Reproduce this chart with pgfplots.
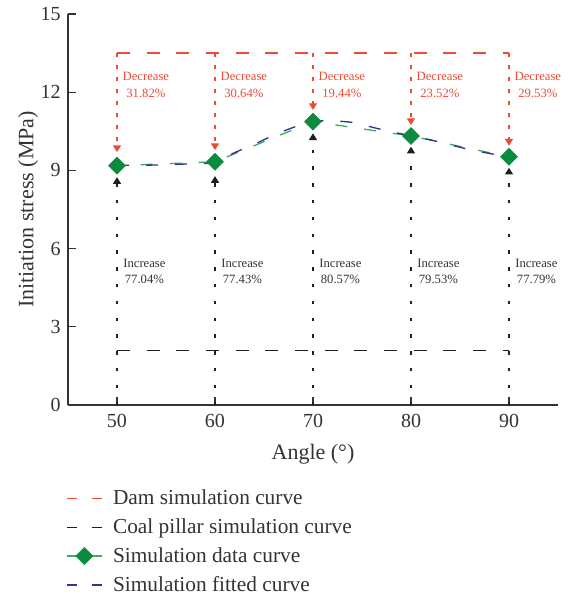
\documentclass[border=0pt]{standalone}
\usepackage{pgfplots}
\pgfplotsset{compat=1.18}
\usepackage{fontspec}
\setmainfont{Liberation Serif}
\usetikzlibrary{arrows.meta}
\definecolor{dred}{HTML}{EE4B36}
\definecolor{dblack}{HTML}{1E1E1E}
\definecolor{dgreen}{HTML}{0B8B3D}
\definecolor{dgreenl}{HTML}{3DAE5F}
\definecolor{dblue}{HTML}{3B2F8F}
\definecolor{axgray}{HTML}{333333}
\definecolor{txtgray}{HTML}{333333}
\begin{document}
\begin{tikzpicture}
\begin{axis}[
  width=367.5pt, height=293.25pt, scale only axis,
  xmin=45, xmax=95, ymin=0, ymax=15,
  axis x line*=bottom, axis y line*=left,
  axis line style={color=axgray, line width=1pt, -},
  xtick={50,60,70,80,90}, ytick={0,3,6,9,12,15},
  tick align=inside, major tick length=6pt,
  tick style={color=axgray, line width=0.8pt},
  tick label style={font=\fontsize{15}{17}\selectfont, text=txtgray},
  xticklabel style={yshift=-3pt},
  yticklabel style={xshift=-2pt},
  /pgf/number format/assume math mode=true,
  xlabel={Angle (°)}, ylabel={Initiation stress (MPa)},
  label style={font=\fontsize{16.5}{19}\selectfont, text=txtgray},
  xlabel style={yshift=-6pt},
  ylabel style={yshift=-5pt},
  clip=false,
  legend style={at={(-0.012,-0.203)}, anchor=north west, draw=none, fill=none,
    font=\fontsize{16}{18}\selectfont, row sep=5pt, column sep=6pt, text=txtgray},
  legend cell align=left,
]
\addlegendimage{legend image code/.code={\draw[dred, line width=1pt, dash pattern=on 7.5pt off 11pt] (0pt,0pt) -- (26pt,0pt);}}
\addlegendentry{Dam simulation curve}
\addlegendimage{legend image code/.code={\draw[dblack, line width=1pt, dash pattern=on 7.5pt off 11pt] (0pt,0pt) -- (26pt,0pt);}}
\addlegendentry{Coal pillar simulation curve}
\addlegendimage{legend image code/.code={\draw[dgreenl, line width=1pt] (0pt,0pt) -- (26pt,0pt); \fill[dgreen] (13pt,6.4pt) -- (19.4pt,0pt) -- (13pt,-6.4pt) -- (6.6pt,0pt) -- cycle;}}
\addlegendentry{Simulation data curve}
\addlegendimage{legend image code/.code={\draw[dblue, line width=1pt, dash pattern=on 7.5pt off 11pt] (0pt,0pt) -- (26pt,0pt);}}
\addlegendentry{Simulation fitted curve}

% red box
\addplot[forget plot, dred, line width=1pt, dash pattern=on 9.75pt off 12.5pt] coordinates {(50,13.5) (90,13.5)};
\addplot[forget plot, dred, line width=1pt, dash pattern=on 3pt off 6pt, -{Triangle[width=6pt,length=5pt]}] coordinates {(50,13.5) (50,9.7)};
\addplot[forget plot, dred, line width=1pt, dash pattern=on 3pt off 6pt, -{Triangle[width=6pt,length=5pt]}] coordinates {(60,13.5) (60,9.78)};
\addplot[forget plot, dred, line width=1pt, dash pattern=on 3pt off 6pt, -{Triangle[width=6pt,length=5pt]}] coordinates {(70,13.5) (70,11.32)};
\addplot[forget plot, dred, line width=1pt, dash pattern=on 3pt off 6pt, -{Triangle[width=6pt,length=5pt]}] coordinates {(80,13.5) (80,10.74)};
\addplot[forget plot, dred, line width=1pt, dash pattern=on 3pt off 6pt, -{Triangle[width=6pt,length=5pt]}] coordinates {(90,13.5) (90,9.95)};

% black box
\addplot[forget plot, dblack, line width=1pt, dash pattern=on 9.75pt off 12.5pt] coordinates {(50,2.1) (90,2.1)};
\addplot[forget plot, dblack, line width=1pt, dash pattern=on 2.6pt off 10pt, -{Triangle[width=6pt,length=5pt]}] coordinates {(50,0) (50,8.74)};
\addplot[forget plot, dblack, line width=1pt, dash pattern=on 2.6pt off 10pt, -{Triangle[width=6pt,length=5pt]}] coordinates {(60,0) (60,8.78)};
\addplot[forget plot, dblack, line width=1pt, dash pattern=on 2.6pt off 10pt, -{Triangle[width=6pt,length=5pt]}] coordinates {(70,0) (70,10.42)};
\addplot[forget plot, dblack, line width=1pt, dash pattern=on 2.6pt off 10pt, -{Triangle[width=6pt,length=5pt]}] coordinates {(80,0) (80,9.91)};
\addplot[forget plot, dblack, line width=1pt, dash pattern=on 2.6pt off 10pt, -{Triangle[width=6pt,length=5pt]}] coordinates {(90,0) (90,9.10)};

% simulation data
\addplot[forget plot, dgreenl, line width=1pt, dash pattern=on 9pt off 12.75pt, dash phase=4pt] coordinates {(50,9.18) (60,9.33) (70,10.87) (80,10.32) (90,9.52)};
\addplot[forget plot, only marks, mark=square*, mark size=4.5pt, mark options={rotate=45, fill=dgreen, draw=dgreen}] coordinates {(50,9.18) (60,9.33) (70,10.87) (80,10.32) (90,9.52)};

% fitted
\addplot[forget plot, dblue, line width=1pt, dash pattern=on 9pt off 12.75pt, smooth] coordinates {
(50,9.2) (53,9.2) (56,9.23) (58,9.26) (60,9.3) (62,9.68) (64,10.0) (66,10.35) (68,10.65) (70,10.87) (71,10.9) (72,10.9) (74,10.84) (76,10.66) (78,10.48) (80,10.33) (82,10.17) (84,9.98) (86,9.8) (88,9.65) (90,9.52)};

% texts
\node[align=center, text=dred, font=\fontsize{9.5}{12.5}\selectfont] at (axis cs:52.95,12.27) {Decrease\\31.82\%};
\node[align=center, text=dred, font=\fontsize{9.5}{12.5}\selectfont] at (axis cs:62.95,12.27) {Decrease\\30.64\%};
\node[align=center, text=dred, font=\fontsize{9.5}{12.5}\selectfont] at (axis cs:72.95,12.27) {Decrease\\19.44\%};
\node[align=center, text=dred, font=\fontsize{9.5}{12.5}\selectfont] at (axis cs:82.95,12.27) {Decrease\\23.52\%};
\node[align=center, text=dred, font=\fontsize{9.5}{12.5}\selectfont] at (axis cs:92.95,12.27) {Decrease\\29.53\%};
\node[align=center, text=txtgray, font=\fontsize{9.5}{12}\selectfont] at (axis cs:52.8,5.14) {Increase\\77.04\%};
\node[align=center, text=txtgray, font=\fontsize{9.5}{12}\selectfont] at (axis cs:62.8,5.14) {Increase\\77.43\%};
\node[align=center, text=txtgray, font=\fontsize{9.5}{12}\selectfont] at (axis cs:72.8,5.14) {Increase\\80.57\%};
\node[align=center, text=txtgray, font=\fontsize{9.5}{12}\selectfont] at (axis cs:82.8,5.14) {Increase\\79.53\%};
\node[align=center, text=txtgray, font=\fontsize{9.5}{12}\selectfont] at (axis cs:92.8,5.14) {Increase\\77.79\%};
\end{axis}
\path[use as bounding box] ([shift={(-51pt,-147pt)}]current axis.south west) rectangle ([shift={(11.25pt,10.5pt)}]current axis.north east);
\end{tikzpicture}
\end{document}
